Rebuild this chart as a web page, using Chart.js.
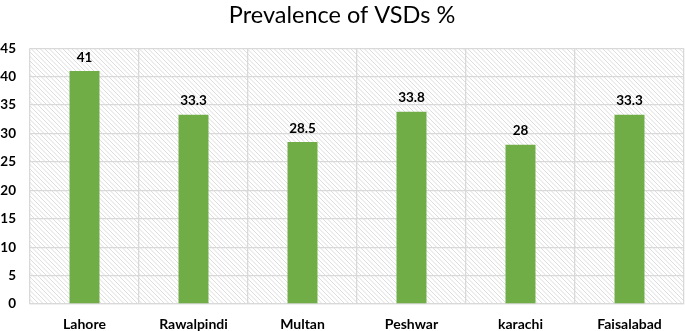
<!DOCTYPE html>
<html>
<head>
<meta charset="utf-8">
<script src="https://cdn.jsdelivr.net/npm/chart.js@4/dist/chart.umd.min.js"></script>
<style>
html,body{margin:0;padding:0;background:#fff;}
#wrap{width:685px;height:331px;position:relative;}
</style>
</head>
<body>
<div id="wrap"><canvas id="c" width="685" height="331"></canvas></div>
<script>
const categories = ["Lahore", "Rawalpindi", "Multan", "Peshwar", "karachi", "Faisalabad"];
const prevalence = [41, 33.3, 28.5, 33.8, 28, 33.3];
const valueLabels = ["41", "33.3", "28.5", "33.8", "28", "33.3"];
const titleText = "Prevalence of VSDs %";

const hatchPlugin = {
  id: 'hatch',
  beforeDraw(chart) {
    const {ctx, chartArea: a} = chart;
    ctx.save();
    ctx.beginPath();
    ctx.rect(a.left, a.top, a.right - a.left, a.bottom - a.top);
    ctx.clip();
    ctx.fillStyle = '#ffffff';
    ctx.fillRect(a.left, a.top, a.right - a.left, a.bottom - a.top);
    ctx.strokeStyle = '#d4d4d4';
    ctx.lineWidth = 0.8;
    const h = a.bottom - a.top;
    ctx.beginPath();
    for (let x = a.left - h; x < a.right + h; x += 4.5) {
      ctx.moveTo(x, a.top);
      ctx.lineTo(x + h, a.bottom);
    }
    ctx.stroke();
    ctx.restore();
  }
};

const labelPlugin = {
  id: 'valLabels',
  afterDatasetsDraw(chart) {
    const {ctx} = chart;
    const meta = chart.getDatasetMeta(0);
    ctx.save();
    ctx.font = 'bold 13.5px Lato, "Open Sans", sans-serif';
    ctx.fillStyle = '#000';
    ctx.textAlign = 'center';
    ctx.textBaseline = 'bottom';
    meta.data.forEach((bar, i) => {
      ctx.fillText(valueLabels[i], bar.x, bar.y - 7);
    });
    ctx.restore();
  }
};

new Chart(document.getElementById('c'), {
  type: 'bar',
  data: {
    labels: categories,
    datasets: [{
      data: prevalence,
      backgroundColor: '#70AD47',
      borderWidth: 0,
      categoryPercentage: 1.0,
      barPercentage: 0.275
    }]
  },
  options: {
    responsive: false,
    animation: false,
    layout: {padding: {left: 0, right: 1, top: 0, bottom: 0}},
    plugins: {
      legend: {display: false},
      tooltip: {enabled: false},
      title: {
        display: true,
        text: titleText,
        color: '#000',
        font: {family: 'Lato, "Open Sans", sans-serif', size: 23.5, weight: 'normal'},
        padding: {top: 1, bottom: 19}
      }
    },
    scales: {
      x: {
        grid: {color: '#d9d9d9', lineWidth: 1.3, drawTicks: false, offset: true},
        border: {color: '#d9d9d9', width: 1.3},
        ticks: {color: '#000', font: {family: 'Lato, "Open Sans", sans-serif', size: 14, weight: 'bold'}, padding: 12},
        afterFit(s) { s.height = 27; }
      },
      y: {
        min: 0, max: 45,
        grid: {color: '#d9d9d9', lineWidth: 1.3, drawTicks: false},
        border: {display: false},
        ticks: {stepSize: 5, color: '#000', font: {family: 'Lato, "Open Sans", sans-serif', size: 13.5, weight: 'bold'}, padding: 14},
        afterFit(s) { s.width = 30; }
      }
    }
  },
  plugins: [hatchPlugin, labelPlugin]
});
</script>
</body>
</html>
